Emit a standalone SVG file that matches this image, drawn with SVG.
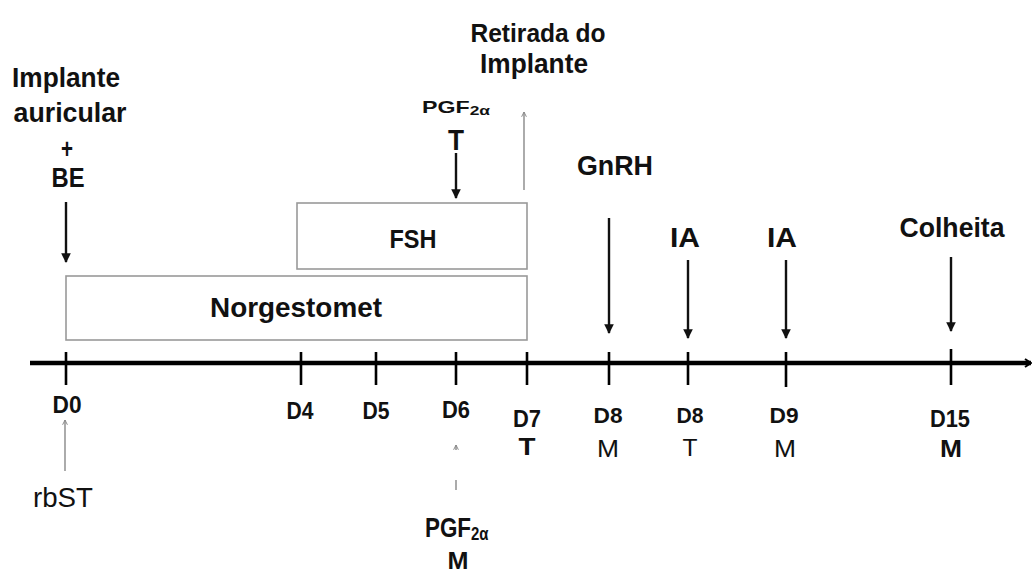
<svg xmlns="http://www.w3.org/2000/svg" width="1035" height="572" viewBox="0 0 1035 572">
  <defs>
    <style>
      text { font-family: "Liberation Sans", Arial, sans-serif; fill: #111; text-anchor: middle; font-weight: bold; }
      .lbl { font-size: 28px; }
      .day { font-size: 24px; }
      .start { text-anchor: start; }
      .box { fill: #fff; stroke: #999; stroke-width: 1.6; }
      .dark { stroke: #111; stroke-width: 2.4; fill: none; }
      .thin { stroke: #888; stroke-width: 1.4; fill: none; }
      .axis { stroke: #000; stroke-width: 4.5; fill: none; }
      .tick { stroke: #000; stroke-width: 2.6; }
    </style>
    <marker id="headDark" viewBox="0 0 10 10" refX="9" refY="5" markerWidth="4" markerHeight="4" orient="auto">
      <path d="M0,0 L10,5 L0,10 Z" fill="#111"/>
    </marker>
    <marker id="headThin" viewBox="0 0 10 10" refX="9" refY="5" markerWidth="6" markerHeight="6" orient="auto" markerUnits="userSpaceOnUse">
      <path d="M1,1 L9,5 L1,9" fill="none" stroke="#888" stroke-width="1.6"/>
    </marker>
    <marker id="headAxis" viewBox="0 0 10 10" refX="9" refY="5" markerWidth="10" markerHeight="12" orient="auto" markerUnits="userSpaceOnUse">
      <path d="M3,1 L9,5 L3,9" fill="none" stroke="#000" stroke-width="2"/>
    </marker>
  </defs>

  <rect width="1035" height="572" fill="#fff"/>

  <!-- treatment bars -->
  <g id="norgestomet">
    <rect class="box" x="66" y="276" width="461" height="64"/>
    <text class="lbl" x="296" y="317" textLength="172" lengthAdjust="spacingAndGlyphs">Norgestomet</text>
  </g>
  <g id="fsh">
    <rect class="box" x="297" y="203" width="230" height="66"/>
    <text x="413" y="248" style="font-size:25px" textLength="47" lengthAdjust="spacingAndGlyphs">FSH</text>
  </g>

  <!-- event labels -->
  <g id="implante-be">
    <text class="lbl" x="66" y="87" textLength="108" lengthAdjust="spacingAndGlyphs">Implante</text>
    <text class="lbl" x="70" y="122" textLength="113" lengthAdjust="spacingAndGlyphs">auricular</text>
    <text x="67" y="158" style="font-size:28px" textLength="12" lengthAdjust="spacingAndGlyphs">+</text>
    <text class="lbl" x="68" y="187" textLength="33" lengthAdjust="spacingAndGlyphs">BE</text>
  </g>
  <g id="retirada">
    <text x="538" y="42" style="font-size:26px" textLength="135" lengthAdjust="spacingAndGlyphs">Retirada do</text>
    <text x="534" y="73" style="font-size:28px" textLength="108" lengthAdjust="spacingAndGlyphs">Implante</text>
  </g>
  <g id="pgf-t">
    <text class="start" transform="translate(422,113) scale(1.45,1)" style="font-size:16px">PGF<tspan dy="2" style="font-size:12px">2α</tspan></text>
    <text x="456" y="150" style="font-size:29px" textLength="16" lengthAdjust="spacingAndGlyphs">T</text>
  </g>
  <g id="gnrh">
    <text class="lbl" x="615" y="175" textLength="76" lengthAdjust="spacingAndGlyphs">GnRH</text>
  </g>
  <g id="ia-1">
    <text class="lbl" x="685" y="247" textLength="30" lengthAdjust="spacingAndGlyphs">IA</text>
  </g>
  <g id="ia-2">
    <text class="lbl" x="782" y="247" textLength="30" lengthAdjust="spacingAndGlyphs">IA</text>
  </g>
  <g id="colheita">
    <text class="lbl" x="952" y="237" textLength="105" lengthAdjust="spacingAndGlyphs">Colheita</text>
  </g>
  <g id="rbst">
    <text class="lbl" x="63" y="507" style="font-weight:normal" textLength="60" lengthAdjust="spacingAndGlyphs">rbST</text>
  </g>
  <g id="pgf-m">
    <text class="start" transform="translate(425,537) scale(0.83,1)" style="font-size:27px">PGF<tspan dy="3" style="font-size:18px">2α</tspan></text>
    <text x="458" y="569" style="font-size:24px" textLength="21" lengthAdjust="spacingAndGlyphs">M</text>
  </g>

  <!-- time axis with day marks -->
  <g id="timeline">
    <line class="axis" x1="30" y1="363" x2="1031" y2="363" marker-end="url(#headAxis)"/>
    <line class="tick" x1="66" y1="352" x2="66" y2="385"/>
    <line class="tick" x1="301" y1="352" x2="301" y2="385"/>
    <line class="tick" x1="376" y1="352" x2="376" y2="385"/>
    <line class="tick" x1="456" y1="352" x2="456" y2="385"/>
    <line class="tick" x1="527" y1="352" x2="527" y2="385"/>
    <line class="tick" x1="609" y1="352" x2="609" y2="385"/>
    <line class="tick" x1="688" y1="352" x2="688" y2="385"/>
    <line class="tick" x1="786" y1="352" x2="786" y2="387"/>
    <line class="tick" x1="951" y1="349" x2="951" y2="385"/>
    <text class="day" x="67" y="413" textLength="29" lengthAdjust="spacingAndGlyphs">D0</text>
    <text class="day" x="300" y="419" textLength="27" lengthAdjust="spacingAndGlyphs">D4</text>
    <text class="day" x="376" y="419" textLength="27" lengthAdjust="spacingAndGlyphs">D5</text>
    <text class="day" x="456" y="418" textLength="28" lengthAdjust="spacingAndGlyphs">D6</text>
    <text class="day" x="527" y="427" textLength="28" lengthAdjust="spacingAndGlyphs">D7</text>
    <text class="day" x="527" y="455" textLength="17" lengthAdjust="spacingAndGlyphs">T</text>
    <text class="day" x="608" y="423" style="font-size:22px" textLength="29" lengthAdjust="spacingAndGlyphs">D8</text>
    <text class="day" x="608" y="457" style="font-weight:normal" textLength="22" lengthAdjust="spacingAndGlyphs">M</text>
    <text class="day" x="690" y="423" style="font-size:22px" textLength="27" lengthAdjust="spacingAndGlyphs">D8</text>
    <text class="day" x="690" y="456" style="font-weight:normal;font-size:23px" textLength="15" lengthAdjust="spacingAndGlyphs">T</text>
    <text class="day" x="784" y="423" style="font-size:22px" textLength="29" lengthAdjust="spacingAndGlyphs">D9</text>
    <text class="day" x="785" y="457" style="font-weight:normal" textLength="22" lengthAdjust="spacingAndGlyphs">M</text>
    <text class="day" x="950" y="427" textLength="40" lengthAdjust="spacingAndGlyphs">D15</text>
    <text class="day" x="951" y="457" textLength="22" lengthAdjust="spacingAndGlyphs">M</text>
  </g>

  <!-- event arrows -->
  <g id="connectors">
    <line class="dark" x1="66" y1="202" x2="66" y2="262" marker-end="url(#headDark)"/>
    <line class="dark" x1="456" y1="153" x2="456" y2="198" marker-end="url(#headDark)"/>
    <line class="thin" x1="524" y1="190" x2="524" y2="112" marker-end="url(#headThin)"/>
    <line class="dark" x1="609" y1="218" x2="609" y2="333" marker-end="url(#headDark)"/>
    <line class="dark" x1="688" y1="260" x2="688" y2="338" marker-end="url(#headDark)"/>
    <line class="dark" x1="786" y1="260" x2="786" y2="338" marker-end="url(#headDark)"/>
    <line class="dark" x1="951" y1="257" x2="951" y2="331" marker-end="url(#headDark)"/>
    <line class="thin" x1="65" y1="471" x2="65" y2="420" marker-end="url(#headThin)"/>
    <line class="thin" x1="456" y1="490" x2="456" y2="445" stroke-dasharray="10 30 6" marker-end="url(#headThin)"/>
  </g>
</svg>
